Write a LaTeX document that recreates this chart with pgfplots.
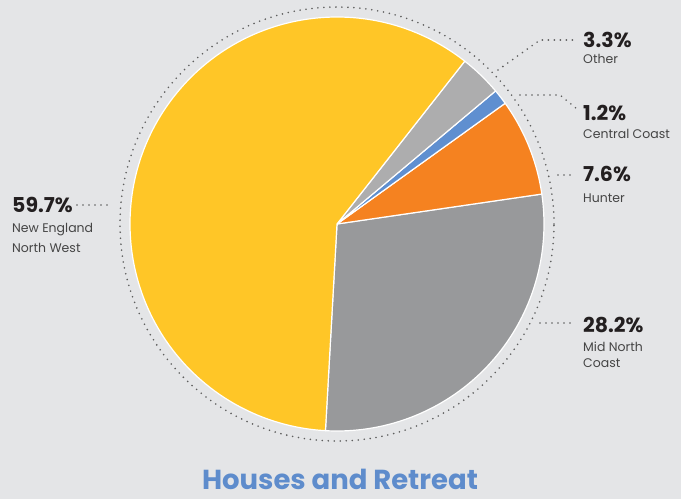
\documentclass[border=0pt]{standalone}
\usepackage{pgfplots}
\pgfplotsset{compat=1.18}
\usepackage{pgfplotstable}
\usepackage{fontspec}
\setmainfont{Poppins}
\definecolor{bg}{HTML}{E4E5E7}
\definecolor{pie0}{HTML}{98999B}
\definecolor{pie1}{HTML}{F58220}
\definecolor{pie2}{HTML}{5F8FD0}
\definecolor{pie3}{HTML}{ADADAE}
\definecolor{pie4}{HTML}{FFC627}
\definecolor{dotc}{HTML}{5E5E5E}
\definecolor{pctc}{HTML}{231F20}
\definecolor{labc}{HTML}{454545}
\definecolor{titc}{HTML}{5E8CCC}
\pgfplotstableread[col sep=comma]{
label,value
Mid North Coast,28.2
Hunter,7.6
Central Coast,1.2
Other,3.3
New England North West,59.7
}\piedata
\xdef\cumangle{266.8}
\foreach \i in {0,...,4}{%
  \pgfplotstablegetelem{\i}{value}\of\piedata
  \pgfmathsetmacro\a{\cumangle}%
  \pgfmathsetmacro\b{\cumangle+3.6*\pgfplotsretval}%
  \expandafter\xdef\csname sa\i\endcsname{\a}%
  \expandafter\xdef\csname ea\i\endcsname{\b}%
  \xdef\cumangle{\b}%
}
\tikzset{leader/.style={draw=dotc, line width=1.8pt, dash pattern=on 0pt off 6pt, line cap=round}}
\newcommand\pct[1]{{\fontsize{20.5}{22}\selectfont\bfseries\color{pctc}#1}}
\newcommand\lab[1]{{\fontsize{12.5}{16}\selectfont\color{labc}#1}}
\begin{document}
\begin{tikzpicture}
\begin{axis}[
  scale only axis, width=681pt, height=499pt,
  xmin=0, xmax=681, ymin=0, ymax=499,
  hide axis, clip=false]
\fill[bg] (axis cs:0,0) rectangle (axis cs:681,499);
\pgfplotsinvokeforeach{0,...,4}{
  \fill[pie#1, draw=white, line width=1.2pt, line join=round] (axis cs:337,275) -- ++(\csname sa#1\endcsname:207pt) arc[start angle=\csname sa#1\endcsname, end angle=\csname ea#1\endcsname, radius=207pt] -- cycle;
}
\draw[leader] (axis cs:337,275) circle[radius=217pt];
% leaders
\draw[leader] (axis cs:77,294) -- (axis cs:113,294);
\draw[leader] (axis cs:498,429) -- (axis cs:540,459) -- (axis cs:578,459);
\draw[leader] (axis cs:520,404) -- (axis cs:560,404) -- (axis cs:577,390);
\draw[leader] (axis cs:558,324) -- (axis cs:575,324);
\draw[leader] (axis cs:540,176) -- (axis cs:573,176);
% labels
\node[anchor=west, inner sep=0] at (axis cs:12,294) {\pct{59.7\%}};
\node[anchor=west, inner sep=0] at (axis cs:12,269) {\lab{New England}};
\node[anchor=west, inner sep=0] at (axis cs:12,251) {\lab{North West}};
\node[anchor=west, inner sep=0] at (axis cs:583,459) {\pct{3.3\%}};
\node[anchor=west, inner sep=0] at (axis cs:583,440) {\lab{Other}};
\node[anchor=west, inner sep=0] at (axis cs:583,386) {\pct{1.2\%}};
\node[anchor=west, inner sep=0] at (axis cs:583,365) {\lab{Central Coast}};
\node[anchor=west, inner sep=0] at (axis cs:583,325) {\pct{7.6\%}};
\node[anchor=west, inner sep=0] at (axis cs:583,301) {\lab{Hunter}};
\node[anchor=west, inner sep=0] at (axis cs:583,174) {\pct{28.2\%}};
\node[anchor=west, inner sep=0] at (axis cs:583,152) {\lab{Mid North}};
\node[anchor=west, inner sep=0] at (axis cs:583,136) {\lab{Coast}};
\node[anchor=center, inner sep=0] at (axis cs:340,19.5) {\fontsize{27.5}{30}\selectfont\bfseries\color{titc}Houses and Retreat};
\end{axis}
\pgfresetboundingbox
\path[use as bounding box] (0,0) rectangle (681pt,499pt);
\end{tikzpicture}
\end{document}
